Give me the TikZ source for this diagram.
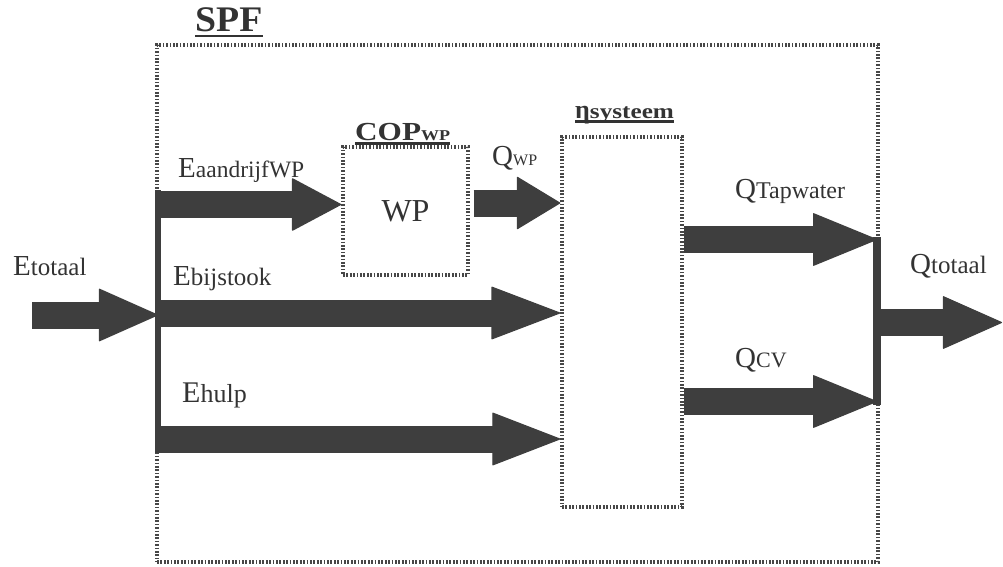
\documentclass[tikz,border=0pt]{standalone}
\usepackage{fontspec}
\setmainfont{Liberation Serif}
\usetikzlibrary{arrows.meta}
\definecolor{ink}{HTML}{333333}
\definecolor{arr}{HTML}{3E3E3E}
\newcommand\mylab[4]{{\fontsize{#1}{#1}\selectfont #3}{\fontsize{#2}{#2}\selectfont #4}}
\begin{document}
\begin{tikzpicture}[x=1pt,y=-1pt,
  dotbox/.style={draw=black!72, line width=3.4pt, dash pattern=on 1.7pt off 1.7pt, inner sep=0pt, text=ink},
  lbl/.style={anchor=base west, inner sep=0pt, text=ink},
  flow/.style={draw=arr, line width=27pt, -{Triangle[length=#1, width=53pt, line width=1.2pt, round]}},
  flow/.default=64pt,
  bar/.style={draw=arr, line width=#1},
  uline/.style={draw=ink, line width=2.4pt}]
\useasboundingbox (0,0) rectangle (1003,567);

% boxes
\node[dotbox, minimum width=721pt, minimum height=517pt] (spf) at (517.5,303.5) {};
\node[dotbox, minimum width=125pt, minimum height=128pt] (wp) at (405.5,211) {\fontsize{32}{32}\selectfont WP};
\node[dotbox, minimum width=120pt, minimum height=370pt] (sys) at (622,322) {};

% titles
\node[lbl] (spft) at (195,32) {\bfseries\scalebox{1.05}[1]{\fontsize{36}{36}\selectfont SPF}};
\draw[uline] ([yshift=-4pt]spft.base west) -- ([yshift=-4pt]spft.base east);
\node[lbl] (copt) at (355,140) {\bfseries\scalebox{1.2}[1]{\fontsize{26}{26}\selectfont COP}\scalebox{1.2}[1]{\fontsize{15}{15}\selectfont WP}};
\draw[uline] ([yshift=-3.5pt]copt.base west) -- ([yshift=-3.5pt]copt.base east);
\node[lbl] (etat) at (575,118) {\bfseries{\fontsize{26}{26}\selectfont η}\scalebox{1.2}[1]{\fontsize{21}{21}\selectfont systeem}};
\draw[uline] ([yshift=-3.5pt]etat.base west) -- ([yshift=-3.5pt]etat.base east);

% flow labels
\node[lbl] (letot) at (13,275) {\mylab{29}{25}{E}{totaal}};
\node[lbl] (leaan) at (178,177) {\mylab{29}{23.5}{E}{aandrijfWP}};
\node[lbl] (lebij) at (173,285) {\mylab{29}{25}{E}{bijstook}};
\node[lbl] (lehul) at (182,402) {\mylab{30}{26}{E}{hulp}};
\node[lbl] (lqwp) at (492,165) {\mylab{29}{16}{Q}{WP}};
\node[lbl] (lqtap) at (735,198) {\mylab{29}{24}{Q}{Tapwater}};
\node[lbl] (lqtot) at (910,273) {\mylab{29}{25}{Q}{totaal}};
\node[lbl] (lqcv) at (735,367) {\mylab{29}{22}{Q}{CV}};

% bus bars
\coordinate (lbt) at (158,190);
\coordinate (lbb) at (158,453);
\coordinate (rbt) at (877,237);
\coordinate (rbb) at (877,405);
\draw[bar=6pt] (lbt) -- (lbb);
\draw[bar=8pt] (rbt) -- (rbb);

% flows
\coordinate (ein) at (32,315);
\coordinate (qout) at (1002,322.5);
\draw[flow=60pt] (ein) -- (ein -| lbt);
\draw[flow=50pt] (lbt |- 0,204.5) -- (wp.west |- 0,204.5);
\draw[flow=70pt] (lbt |- 0,313) -- (sys.west |- 0,313);
\draw[flow=69pt] (lbt |- 0,439) -- (sys.west |- 0,439);
\draw[flow=44pt] ([xshift=4pt]wp.east |- 0,203) -- (sys.west |- 0,203);
\draw[flow=65pt] (sys.east |- 0,239.5) -- (rbt |- 0,239.5);
\draw[flow=65pt] (sys.east |- 0,401.5) -- (rbt |- 0,401.5);
\draw[flow=60pt] (rbt |- qout) -- (qout);
\end{tikzpicture}
\end{document}
